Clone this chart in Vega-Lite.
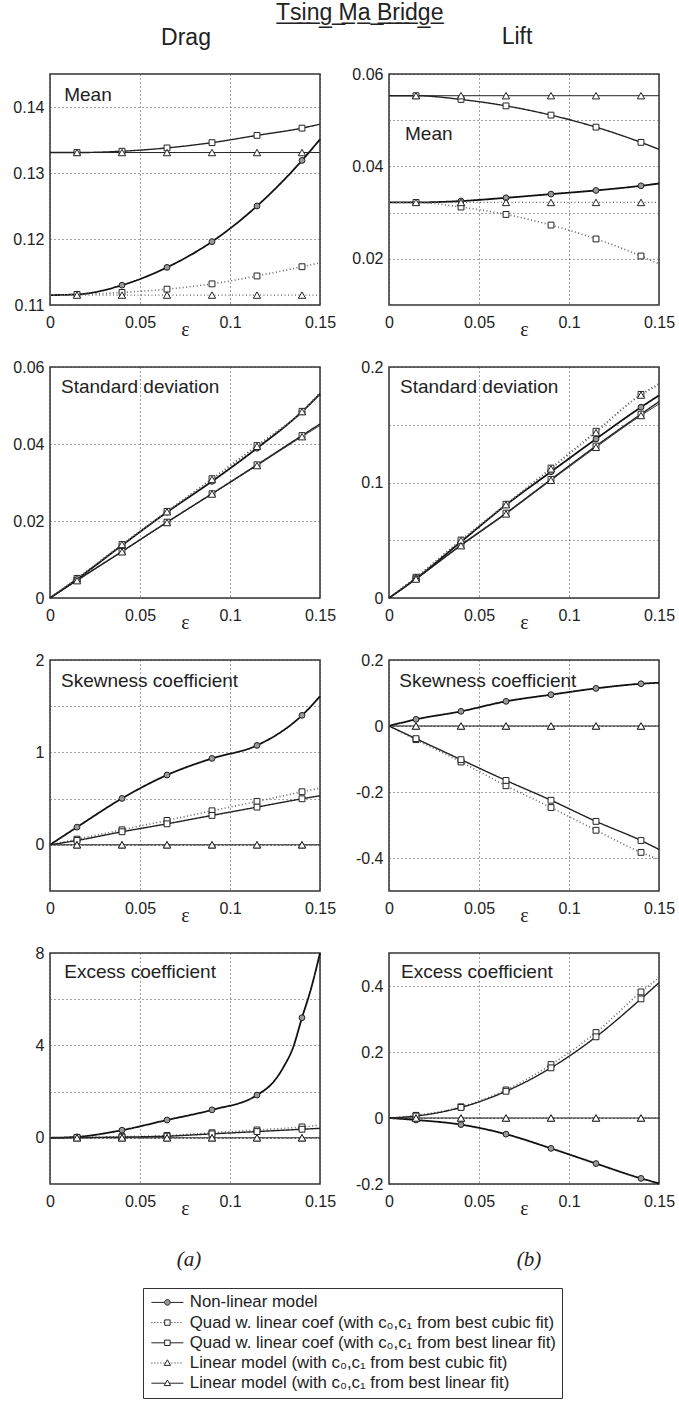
{
  "$schema": "https://vega.github.io/schema/vega-lite/v6.json",
  "padding": {"left": 12, "top": 2, "right": 2, "bottom": 2},
  "background": "white",
  "title": {"text": "T\u0332s\u0332i\u0332n\u0332g\u0332 \u0332M\u0332a\u0332 \u0332B\u0332r\u0332i\u0332d\u0332g\u0332e\u0332", "font": "Liberation Sans", "fontSize": 23, "fontWeight": "normal", "color": "#222", "baseline": "alphabetic", "anchor": "middle", "offset": -18, "dx": 16},
  "datasets": {
    "names": [
      {"p": "dm", "name": "Mean"}, {"p": "lm", "name": "Mean"},
      {"p": "ds", "name": "Standard deviation"}, {"p": "ls", "name": "Standard deviation"},
      {"p": "dk", "name": "Skewness coefficient"}, {"p": "lk", "name": "Skewness coefficient"},
      {"p": "de", "name": "Excess coefficient"}, {"p": "le", "name": "Excess coefficient"}
    ],
    "curves": [
      {"p":"dm","s":"nl","x":0,"y":0.1115},{"p":"dm","s":"nl","x":0.015,"y":0.1116,"m":1},{"p":"dm","s":"nl","x":0.04,"y":0.113,"m":1},{"p":"dm","s":"nl","x":0.065,"y":0.1157,"m":1},{"p":"dm","s":"nl","x":0.09,"y":0.1196,"m":1},{"p":"dm","s":"nl","x":0.115,"y":0.125,"m":1},{"p":"dm","s":"nl","x":0.14,"y":0.1319,"m":1},{"p":"dm","s":"nl","x":0.15,"y":0.1351},
      {"p":"dm","s":"qc","x":0,"y":0.1115},{"p":"dm","s":"qc","x":0.015,"y":0.1116,"m":1},{"p":"dm","s":"qc","x":0.04,"y":0.1119,"m":1},{"p":"dm","s":"qc","x":0.065,"y":0.1124,"m":1},{"p":"dm","s":"qc","x":0.09,"y":0.1132,"m":1},{"p":"dm","s":"qc","x":0.115,"y":0.1144,"m":1},{"p":"dm","s":"qc","x":0.14,"y":0.1158,"m":1},{"p":"dm","s":"qc","x":0.15,"y":0.1164},
      {"p":"dm","s":"ql","x":0,"y":0.1331},{"p":"dm","s":"ql","x":0.015,"y":0.1331,"m":1},{"p":"dm","s":"ql","x":0.04,"y":0.1333,"m":1},{"p":"dm","s":"ql","x":0.065,"y":0.1338,"m":1},{"p":"dm","s":"ql","x":0.09,"y":0.1346,"m":1},{"p":"dm","s":"ql","x":0.115,"y":0.1357,"m":1},{"p":"dm","s":"ql","x":0.14,"y":0.1368,"m":1},{"p":"dm","s":"ql","x":0.15,"y":0.1374},
      {"p":"dm","s":"lc","x":0,"y":0.1115},{"p":"dm","s":"lc","x":0.015,"y":0.1115,"m":1},{"p":"dm","s":"lc","x":0.04,"y":0.1115,"m":1},{"p":"dm","s":"lc","x":0.065,"y":0.1115,"m":1},{"p":"dm","s":"lc","x":0.09,"y":0.1115,"m":1},{"p":"dm","s":"lc","x":0.115,"y":0.1115,"m":1},{"p":"dm","s":"lc","x":0.14,"y":0.1115,"m":1},{"p":"dm","s":"lc","x":0.15,"y":0.1115},
      {"p":"dm","s":"ll","x":0,"y":0.1331},{"p":"dm","s":"ll","x":0.015,"y":0.1331,"m":1},{"p":"dm","s":"ll","x":0.04,"y":0.1331,"m":1},{"p":"dm","s":"ll","x":0.065,"y":0.1331,"m":1},{"p":"dm","s":"ll","x":0.09,"y":0.1331,"m":1},{"p":"dm","s":"ll","x":0.115,"y":0.1331,"m":1},{"p":"dm","s":"ll","x":0.14,"y":0.1331,"m":1},{"p":"dm","s":"ll","x":0.15,"y":0.1331},

      {"p":"lm","s":"nl","x":0,"y":0.0322},{"p":"lm","s":"nl","x":0.015,"y":0.0322,"m":1},{"p":"lm","s":"nl","x":0.04,"y":0.0325,"m":1},{"p":"lm","s":"nl","x":0.065,"y":0.0332,"m":1},{"p":"lm","s":"nl","x":0.09,"y":0.034,"m":1},{"p":"lm","s":"nl","x":0.115,"y":0.0348,"m":1},{"p":"lm","s":"nl","x":0.14,"y":0.0358,"m":1},{"p":"lm","s":"nl","x":0.15,"y":0.0363},
      {"p":"lm","s":"qc","x":0,"y":0.0322},{"p":"lm","s":"qc","x":0.015,"y":0.0322,"m":1},{"p":"lm","s":"qc","x":0.04,"y":0.0312,"m":1},{"p":"lm","s":"qc","x":0.065,"y":0.0296,"m":1},{"p":"lm","s":"qc","x":0.09,"y":0.0273,"m":1},{"p":"lm","s":"qc","x":0.115,"y":0.0243,"m":1},{"p":"lm","s":"qc","x":0.14,"y":0.0206,"m":1},{"p":"lm","s":"qc","x":0.15,"y":0.0189},
      {"p":"lm","s":"ql","x":0,"y":0.0553},{"p":"lm","s":"ql","x":0.015,"y":0.0553,"m":1},{"p":"lm","s":"ql","x":0.04,"y":0.0545,"m":1},{"p":"lm","s":"ql","x":0.065,"y":0.0531,"m":1},{"p":"lm","s":"ql","x":0.09,"y":0.0511,"m":1},{"p":"lm","s":"ql","x":0.115,"y":0.0485,"m":1},{"p":"lm","s":"ql","x":0.14,"y":0.0452,"m":1},{"p":"lm","s":"ql","x":0.15,"y":0.0437},
      {"p":"lm","s":"lc","x":0,"y":0.0322},{"p":"lm","s":"lc","x":0.015,"y":0.0322,"m":1},{"p":"lm","s":"lc","x":0.04,"y":0.0322,"m":1},{"p":"lm","s":"lc","x":0.065,"y":0.0322,"m":1},{"p":"lm","s":"lc","x":0.09,"y":0.0322,"m":1},{"p":"lm","s":"lc","x":0.115,"y":0.0322,"m":1},{"p":"lm","s":"lc","x":0.14,"y":0.0322,"m":1},{"p":"lm","s":"lc","x":0.15,"y":0.0322},
      {"p":"lm","s":"ll","x":0,"y":0.0553},{"p":"lm","s":"ll","x":0.015,"y":0.0553,"m":1},{"p":"lm","s":"ll","x":0.04,"y":0.0553,"m":1},{"p":"lm","s":"ll","x":0.065,"y":0.0553,"m":1},{"p":"lm","s":"ll","x":0.09,"y":0.0553,"m":1},{"p":"lm","s":"ll","x":0.115,"y":0.0553,"m":1},{"p":"lm","s":"ll","x":0.14,"y":0.0553,"m":1},{"p":"lm","s":"ll","x":0.15,"y":0.0553},

      {"p":"ds","s":"nl","x":0,"y":0},{"p":"ds","s":"nl","x":0.015,"y":0.0049,"m":1},{"p":"ds","s":"nl","x":0.04,"y":0.0137,"m":1},{"p":"ds","s":"nl","x":0.065,"y":0.0223,"m":1},{"p":"ds","s":"nl","x":0.09,"y":0.0303,"m":1},{"p":"ds","s":"nl","x":0.115,"y":0.0389,"m":1},{"p":"ds","s":"nl","x":0.14,"y":0.0484,"m":1},{"p":"ds","s":"nl","x":0.15,"y":0.053},
      {"p":"ds","s":"qc","x":0,"y":0},{"p":"ds","s":"qc","x":0.015,"y":0.0051,"m":1},{"p":"ds","s":"qc","x":0.04,"y":0.0139,"m":1},{"p":"ds","s":"qc","x":0.065,"y":0.0225,"m":1},{"p":"ds","s":"qc","x":0.09,"y":0.031,"m":1},{"p":"ds","s":"qc","x":0.115,"y":0.0396,"m":1},{"p":"ds","s":"qc","x":0.14,"y":0.0485,"m":1},{"p":"ds","s":"qc","x":0.15,"y":0.0533},
      {"p":"ds","s":"ql","x":0,"y":0},{"p":"ds","s":"ql","x":0.015,"y":0.0046,"m":1},{"p":"ds","s":"ql","x":0.04,"y":0.0121,"m":1},{"p":"ds","s":"ql","x":0.065,"y":0.0197,"m":1},{"p":"ds","s":"ql","x":0.09,"y":0.0271,"m":1},{"p":"ds","s":"ql","x":0.115,"y":0.0346,"m":1},{"p":"ds","s":"ql","x":0.14,"y":0.0422,"m":1},{"p":"ds","s":"ql","x":0.15,"y":0.0452},
      {"p":"ds","s":"lc","x":0,"y":0},{"p":"ds","s":"lc","x":0.015,"y":0.0051,"m":1},{"p":"ds","s":"lc","x":0.04,"y":0.0139,"m":1},{"p":"ds","s":"lc","x":0.065,"y":0.0224,"m":1},{"p":"ds","s":"lc","x":0.09,"y":0.0308,"m":1},{"p":"ds","s":"lc","x":0.115,"y":0.0394,"m":1},{"p":"ds","s":"lc","x":0.14,"y":0.0484,"m":1},{"p":"ds","s":"lc","x":0.15,"y":0.0531},
      {"p":"ds","s":"ll","x":0,"y":0},{"p":"ds","s":"ll","x":0.015,"y":0.0045,"m":1},{"p":"ds","s":"ll","x":0.04,"y":0.012,"m":1},{"p":"ds","s":"ll","x":0.065,"y":0.0196,"m":1},{"p":"ds","s":"ll","x":0.09,"y":0.027,"m":1},{"p":"ds","s":"ll","x":0.115,"y":0.0344,"m":1},{"p":"ds","s":"ll","x":0.14,"y":0.0419,"m":1},{"p":"ds","s":"ll","x":0.15,"y":0.0448},

      {"p":"ls","s":"nl","x":0,"y":0},{"p":"ls","s":"nl","x":0.015,"y":0.0168,"m":1},{"p":"ls","s":"nl","x":0.04,"y":0.0487,"m":1},{"p":"ls","s":"nl","x":0.065,"y":0.0806,"m":1},{"p":"ls","s":"nl","x":0.09,"y":0.1093,"m":1},{"p":"ls","s":"nl","x":0.115,"y":0.1377,"m":1},{"p":"ls","s":"nl","x":0.14,"y":0.1652,"m":1},{"p":"ls","s":"nl","x":0.15,"y":0.1754},
      {"p":"ls","s":"qc","x":0,"y":0},{"p":"ls","s":"qc","x":0.015,"y":0.018,"m":1},{"p":"ls","s":"qc","x":0.04,"y":0.0502,"m":1},{"p":"ls","s":"qc","x":0.065,"y":0.0812,"m":1},{"p":"ls","s":"qc","x":0.09,"y":0.1125,"m":1},{"p":"ls","s":"qc","x":0.115,"y":0.1444,"m":1},{"p":"ls","s":"qc","x":0.14,"y":0.1763,"m":1},{"p":"ls","s":"qc","x":0.15,"y":0.1855},
      {"p":"ls","s":"ql","x":0,"y":0},{"p":"ls","s":"ql","x":0.015,"y":0.0166,"m":1},{"p":"ls","s":"ql","x":0.04,"y":0.0458,"m":1},{"p":"ls","s":"ql","x":0.065,"y":0.0735,"m":1},{"p":"ls","s":"ql","x":0.09,"y":0.1027,"m":1},{"p":"ls","s":"ql","x":0.115,"y":0.1316,"m":1},{"p":"ls","s":"ql","x":0.14,"y":0.1592,"m":1},{"p":"ls","s":"ql","x":0.15,"y":0.17},
      {"p":"ls","s":"lc","x":0,"y":0},{"p":"ls","s":"lc","x":0.015,"y":0.0178,"m":1},{"p":"ls","s":"lc","x":0.04,"y":0.0498,"m":1},{"p":"ls","s":"lc","x":0.065,"y":0.0808,"m":1},{"p":"ls","s":"lc","x":0.09,"y":0.1118,"m":1},{"p":"ls","s":"lc","x":0.115,"y":0.1432,"m":1},{"p":"ls","s":"lc","x":0.14,"y":0.1757,"m":1},{"p":"ls","s":"lc","x":0.15,"y":0.1845},
      {"p":"ls","s":"ll","x":0,"y":0},{"p":"ls","s":"ll","x":0.015,"y":0.0164,"m":1},{"p":"ls","s":"ll","x":0.04,"y":0.0453,"m":1},{"p":"ls","s":"ll","x":0.065,"y":0.0728,"m":1},{"p":"ls","s":"ll","x":0.09,"y":0.1019,"m":1},{"p":"ls","s":"ll","x":0.115,"y":0.1305,"m":1},{"p":"ls","s":"ll","x":0.14,"y":0.158,"m":1},{"p":"ls","s":"ll","x":0.15,"y":0.168},

      {"p":"dk","s":"nl","x":0,"y":0},{"p":"dk","s":"nl","x":0.015,"y":0.191,"m":1},{"p":"dk","s":"nl","x":0.04,"y":0.502,"m":1},{"p":"dk","s":"nl","x":0.065,"y":0.755,"m":1},{"p":"dk","s":"nl","x":0.09,"y":0.935,"m":1},{"p":"dk","s":"nl","x":0.115,"y":1.076,"m":1},{"p":"dk","s":"nl","x":0.14,"y":1.401,"m":1},{"p":"dk","s":"nl","x":0.15,"y":1.606},
      {"p":"dk","s":"qc","x":0,"y":0},{"p":"dk","s":"qc","x":0.015,"y":0.061,"m":1},{"p":"dk","s":"qc","x":0.04,"y":0.162,"m":1},{"p":"dk","s":"qc","x":0.065,"y":0.264,"m":1},{"p":"dk","s":"qc","x":0.09,"y":0.368,"m":1},{"p":"dk","s":"qc","x":0.115,"y":0.469,"m":1},{"p":"dk","s":"qc","x":0.14,"y":0.574,"m":1},{"p":"dk","s":"qc","x":0.15,"y":0.614},
      {"p":"dk","s":"ql","x":0,"y":0},{"p":"dk","s":"ql","x":0.015,"y":0.047,"m":1},{"p":"dk","s":"ql","x":0.04,"y":0.141,"m":1},{"p":"dk","s":"ql","x":0.065,"y":0.227,"m":1},{"p":"dk","s":"ql","x":0.09,"y":0.318,"m":1},{"p":"dk","s":"ql","x":0.115,"y":0.408,"m":1},{"p":"dk","s":"ql","x":0.14,"y":0.498,"m":1},{"p":"dk","s":"ql","x":0.15,"y":0.531},
      {"p":"dk","s":"lc","x":0,"y":0},{"p":"dk","s":"lc","x":0.015,"y":0,"m":1},{"p":"dk","s":"lc","x":0.04,"y":0,"m":1},{"p":"dk","s":"lc","x":0.065,"y":0,"m":1},{"p":"dk","s":"lc","x":0.09,"y":0,"m":1},{"p":"dk","s":"lc","x":0.115,"y":0,"m":1},{"p":"dk","s":"lc","x":0.14,"y":0,"m":1},{"p":"dk","s":"lc","x":0.15,"y":0},
      {"p":"dk","s":"ll","x":0,"y":0},{"p":"dk","s":"ll","x":0.015,"y":0,"m":1},{"p":"dk","s":"ll","x":0.04,"y":0,"m":1},{"p":"dk","s":"ll","x":0.065,"y":0,"m":1},{"p":"dk","s":"ll","x":0.09,"y":0,"m":1},{"p":"dk","s":"ll","x":0.115,"y":0,"m":1},{"p":"dk","s":"ll","x":0.14,"y":0,"m":1},{"p":"dk","s":"ll","x":0.15,"y":0},

      {"p":"lk","s":"nl","x":0,"y":0},{"p":"lk","s":"nl","x":0.015,"y":0.0202,"m":1},{"p":"lk","s":"nl","x":0.04,"y":0.0444,"m":1},{"p":"lk","s":"nl","x":0.065,"y":0.0747,"m":1},{"p":"lk","s":"nl","x":0.09,"y":0.0949,"m":1},{"p":"lk","s":"nl","x":0.115,"y":0.114,"m":1},{"p":"lk","s":"nl","x":0.14,"y":0.128,"m":1},{"p":"lk","s":"nl","x":0.15,"y":0.131},
      {"p":"lk","s":"qc","x":0,"y":0},{"p":"lk","s":"qc","x":0.015,"y":-0.0414,"m":1},{"p":"lk","s":"qc","x":0.04,"y":-0.109,"m":1},{"p":"lk","s":"qc","x":0.065,"y":-0.181,"m":1},{"p":"lk","s":"qc","x":0.09,"y":-0.247,"m":1},{"p":"lk","s":"qc","x":0.115,"y":-0.316,"m":1},{"p":"lk","s":"qc","x":0.14,"y":-0.383,"m":1},{"p":"lk","s":"qc","x":0.15,"y":-0.404},
      {"p":"lk","s":"ql","x":0,"y":0},{"p":"lk","s":"ql","x":0.015,"y":-0.0384,"m":1},{"p":"lk","s":"ql","x":0.04,"y":-0.102,"m":1},{"p":"lk","s":"ql","x":0.065,"y":-0.165,"m":1},{"p":"lk","s":"ql","x":0.09,"y":-0.225,"m":1},{"p":"lk","s":"ql","x":0.115,"y":-0.289,"m":1},{"p":"lk","s":"ql","x":0.14,"y":-0.347,"m":1},{"p":"lk","s":"ql","x":0.15,"y":-0.374},
      {"p":"lk","s":"lc","x":0,"y":0},{"p":"lk","s":"lc","x":0.015,"y":0,"m":1},{"p":"lk","s":"lc","x":0.04,"y":0,"m":1},{"p":"lk","s":"lc","x":0.065,"y":0,"m":1},{"p":"lk","s":"lc","x":0.09,"y":0,"m":1},{"p":"lk","s":"lc","x":0.115,"y":0,"m":1},{"p":"lk","s":"lc","x":0.14,"y":0,"m":1},{"p":"lk","s":"lc","x":0.15,"y":0},
      {"p":"lk","s":"ll","x":0,"y":0},{"p":"lk","s":"ll","x":0.015,"y":0,"m":1},{"p":"lk","s":"ll","x":0.04,"y":0,"m":1},{"p":"lk","s":"ll","x":0.065,"y":0,"m":1},{"p":"lk","s":"ll","x":0.09,"y":0,"m":1},{"p":"lk","s":"ll","x":0.115,"y":0,"m":1},{"p":"lk","s":"ll","x":0.14,"y":0,"m":1},{"p":"lk","s":"ll","x":0.15,"y":0},

      {"p":"de","s":"nl","x":0,"y":0},{"p":"de","s":"nl","x":0.015,"y":0.04,"m":1},{"p":"de","s":"nl","x":0.04,"y":0.33,"m":1},{"p":"de","s":"nl","x":0.065,"y":0.77,"m":1},{"p":"de","s":"nl","x":0.09,"y":1.21,"m":1},{"p":"de","s":"nl","x":0.115,"y":1.85,"m":1},{"p":"de","s":"nl","x":0.125,"y":2.5},{"p":"de","s":"nl","x":0.13,"y":3.1},{"p":"de","s":"nl","x":0.135,"y":3.9},{"p":"de","s":"nl","x":0.14,"y":5.2,"m":1},{"p":"de","s":"nl","x":0.145,"y":6.45},{"p":"de","s":"nl","x":0.15,"y":8.0},
      {"p":"de","s":"qc","x":0,"y":0},{"p":"de","s":"qc","x":0.015,"y":0.02,"m":1},{"p":"de","s":"qc","x":0.04,"y":0.05,"m":1},{"p":"de","s":"qc","x":0.065,"y":0.1,"m":1},{"p":"de","s":"qc","x":0.09,"y":0.22,"m":1},{"p":"de","s":"qc","x":0.115,"y":0.34,"m":1},{"p":"de","s":"qc","x":0.14,"y":0.47,"m":1},{"p":"de","s":"qc","x":0.15,"y":0.55},
      {"p":"de","s":"ql","x":0,"y":0},{"p":"de","s":"ql","x":0.015,"y":0.01,"m":1},{"p":"de","s":"ql","x":0.04,"y":0.03,"m":1},{"p":"de","s":"ql","x":0.065,"y":0.07,"m":1},{"p":"de","s":"ql","x":0.09,"y":0.17,"m":1},{"p":"de","s":"ql","x":0.115,"y":0.27,"m":1},{"p":"de","s":"ql","x":0.14,"y":0.37,"m":1},{"p":"de","s":"ql","x":0.15,"y":0.41},
      {"p":"de","s":"lc","x":0,"y":0},{"p":"de","s":"lc","x":0.015,"y":0,"m":1},{"p":"de","s":"lc","x":0.04,"y":0,"m":1},{"p":"de","s":"lc","x":0.065,"y":0,"m":1},{"p":"de","s":"lc","x":0.09,"y":0,"m":1},{"p":"de","s":"lc","x":0.115,"y":0,"m":1},{"p":"de","s":"lc","x":0.14,"y":0,"m":1},{"p":"de","s":"lc","x":0.15,"y":0},
      {"p":"de","s":"ll","x":0,"y":0},{"p":"de","s":"ll","x":0.015,"y":0,"m":1},{"p":"de","s":"ll","x":0.04,"y":0,"m":1},{"p":"de","s":"ll","x":0.065,"y":0,"m":1},{"p":"de","s":"ll","x":0.09,"y":0,"m":1},{"p":"de","s":"ll","x":0.115,"y":0,"m":1},{"p":"de","s":"ll","x":0.14,"y":0,"m":1},{"p":"de","s":"ll","x":0.15,"y":0},

      {"p":"le","s":"nl","x":0,"y":0},{"p":"le","s":"nl","x":0.015,"y":-0.006,"m":1},{"p":"le","s":"nl","x":0.04,"y":-0.02,"m":1},{"p":"le","s":"nl","x":0.065,"y":-0.049,"m":1},{"p":"le","s":"nl","x":0.09,"y":-0.092,"m":1},{"p":"le","s":"nl","x":0.115,"y":-0.138,"m":1},{"p":"le","s":"nl","x":0.14,"y":-0.183,"m":1},{"p":"le","s":"nl","x":0.15,"y":-0.198},
      {"p":"le","s":"qc","x":0,"y":0},{"p":"le","s":"qc","x":0.015,"y":0.008,"m":1},{"p":"le","s":"qc","x":0.04,"y":0.034,"m":1},{"p":"le","s":"qc","x":0.065,"y":0.085,"m":1},{"p":"le","s":"qc","x":0.09,"y":0.162,"m":1},{"p":"le","s":"qc","x":0.115,"y":0.259,"m":1},{"p":"le","s":"qc","x":0.14,"y":0.382,"m":1},{"p":"le","s":"qc","x":0.15,"y":0.425},
      {"p":"le","s":"ql","x":0,"y":0},{"p":"le","s":"ql","x":0.015,"y":0.006,"m":1},{"p":"le","s":"ql","x":0.04,"y":0.032,"m":1},{"p":"le","s":"ql","x":0.065,"y":0.081,"m":1},{"p":"le","s":"ql","x":0.09,"y":0.152,"m":1},{"p":"le","s":"ql","x":0.115,"y":0.246,"m":1},{"p":"le","s":"ql","x":0.14,"y":0.361,"m":1},{"p":"le","s":"ql","x":0.15,"y":0.41},
      {"p":"le","s":"lc","x":0,"y":0},{"p":"le","s":"lc","x":0.015,"y":0,"m":1},{"p":"le","s":"lc","x":0.04,"y":0,"m":1},{"p":"le","s":"lc","x":0.065,"y":0,"m":1},{"p":"le","s":"lc","x":0.09,"y":0,"m":1},{"p":"le","s":"lc","x":0.115,"y":0,"m":1},{"p":"le","s":"lc","x":0.14,"y":0,"m":1},{"p":"le","s":"lc","x":0.15,"y":0},
      {"p":"le","s":"ll","x":0,"y":0},{"p":"le","s":"ll","x":0.015,"y":0,"m":1},{"p":"le","s":"ll","x":0.04,"y":0,"m":1},{"p":"le","s":"ll","x":0.065,"y":0,"m":1},{"p":"le","s":"ll","x":0.09,"y":0,"m":1},{"p":"le","s":"ll","x":0.115,"y":0,"m":1},{"p":"le","s":"ll","x":0.14,"y":0,"m":1},{"p":"le","s":"ll","x":0.15,"y":0}
    ]
  },
  "columns": 2,
  "spacing": {"row": 62, "column": 69},
  "bounds": "flush",
  "resolve": {"scale": {"x": "independent", "y": "independent", "shape": "independent", "fill": "independent", "stroke": "independent", "strokeDash": "independent", "strokeWidth": "independent"}},
  "concat": [
    {
      "width": 270, "height": 231,
      "title": {"text": "Drag", "fontSize": 23, "offset": 6, "baseline": "alphabetic", "frame": "group", "anchor": "middle", "dx": 1},
      "layer": [
        {"data": {"name": "curves"}, "transform": [{"filter": "datum.p === 'dm'"}],
         "mark": {"type": "line", "interpolate": "monotone"},
         "encoding": {
           "x": {"field": "x", "type": "quantitative", "scale": {"domain": [0, 0.15], "nice": false, "zero": false}, "axis": {"values": [0, 0.05, 0.1, 0.15], "format": "~g", "title": "ε"}},
           "y": {"field": "y", "type": "quantitative", "scale": {"domain": [0.11, 0.145], "nice": false, "zero": false}, "axis": {"title": null, "values": [0.11, 0.115, 0.12, 0.125, 0.13, 0.135, 0.14], "format": "~g", "labelExpr": "abs(datum.value*100 - round(datum.value*100)) < 1e-6 ? replace(datum.label, '\u2212', '-') : ''"}},
           "stroke": {"field": "s", "type": "nominal", "scale": {"domain": ["nl","qc","ql","lc","ll"], "range": ["#111","#666","#222","#666","#222"]}, "legend": null},
           "strokeDash": {"field": "s", "type": "nominal", "scale": {"domain": ["nl","qc","ql","lc","ll"], "range": [[1,0],[1,2.5],[1,0],[1,2.5],[1,0]]}, "legend": null},
           "strokeWidth": {"field": "s", "type": "nominal", "scale": {"domain": ["nl","qc","ql","lc","ll"], "range": [1.8,1,1,1,1]}, "legend": null}
         }},
        {"data": {"name": "curves"}, "transform": [{"filter": "datum.p === 'dm' && datum.m === 1"}],
         "mark": {"type": "point", "filled": true, "stroke": "#222", "strokeWidth": 1, "opacity": 1, "size": 34},
         "encoding": {
           "x": {"field": "x", "type": "quantitative"}, "y": {"field": "y", "type": "quantitative"},
           "shape": {"field": "s", "type": "nominal", "scale": {"domain": ["nl","qc","ql","lc","ll"], "range": ["circle","square","square","M0,-1.1L1.25,1.1L-1.25,1.1Z","M0,-1.1L1.25,1.1L-1.25,1.1Z"]}, "legend": null},
           "fill": {"field": "s", "type": "nominal", "scale": {"domain": ["nl","qc","ql","lc","ll"], "range": ["#999","white","white","white","white"]}, "legend": null}
         }},
        {"data": {"name": "names"}, "transform": [{"filter": "datum.p === 'dm'"}],
         "mark": {"type": "text", "align": "left", "baseline": "alphabetic", "font": "Liberation Sans", "fontSize": 19, "color": "#222"},
         "encoding": {"text": {"field": "name"}, "x": {"datum": 0.0079}, "y": {"datum": 0.1409}}}
      ]
    },
    {
      "width": 270, "height": 231,
      "title": {"text": "Lift", "fontSize": 23, "offset": -1, "baseline": "alphabetic", "frame": "group", "anchor": "middle", "dx": -7},
      "layer": [
        {"data": {"name": "curves"}, "transform": [{"filter": "datum.p === 'lm'"}],
         "mark": {"type": "line", "interpolate": "monotone"},
         "encoding": {
           "x": {"field": "x", "type": "quantitative", "scale": {"domain": [0, 0.15], "nice": false, "zero": false}, "axis": {"values": [0, 0.05, 0.1, 0.15], "format": "~g", "title": "ε"}},
           "y": {"field": "y", "type": "quantitative", "scale": {"domain": [0.01, 0.06], "nice": false, "zero": false}, "axis": {"title": null, "values": [0.02, 0.03, 0.04, 0.05, 0.06], "format": "~g", "labelExpr": "abs(datum.value*50 - round(datum.value*50)) < 1e-6 ? replace(datum.label, '\u2212', '-') : ''"}},
           "stroke": {"field": "s", "type": "nominal", "scale": {"domain": ["nl","qc","ql","lc","ll"], "range": ["#111","#666","#222","#666","#222"]}, "legend": null},
           "strokeDash": {"field": "s", "type": "nominal", "scale": {"domain": ["nl","qc","ql","lc","ll"], "range": [[1,0],[1,2.5],[1,0],[1,2.5],[1,0]]}, "legend": null},
           "strokeWidth": {"field": "s", "type": "nominal", "scale": {"domain": ["nl","qc","ql","lc","ll"], "range": [1.8,1,1,1,1]}, "legend": null}
         }},
        {"data": {"name": "curves"}, "transform": [{"filter": "datum.p === 'lm' && datum.m === 1"}],
         "mark": {"type": "point", "filled": true, "stroke": "#222", "strokeWidth": 1, "opacity": 1, "size": 34},
         "encoding": {
           "x": {"field": "x", "type": "quantitative"}, "y": {"field": "y", "type": "quantitative"},
           "shape": {"field": "s", "type": "nominal", "scale": {"domain": ["nl","qc","ql","lc","ll"], "range": ["circle","square","square","M0,-1.1L1.25,1.1L-1.25,1.1Z","M0,-1.1L1.25,1.1L-1.25,1.1Z"]}, "legend": null},
           "fill": {"field": "s", "type": "nominal", "scale": {"domain": ["nl","qc","ql","lc","ll"], "range": ["#999","white","white","white","white"]}, "legend": null}
         }},
        {"data": {"name": "names"}, "transform": [{"filter": "datum.p === 'lm'"}],
         "mark": {"type": "text", "align": "left", "baseline": "alphabetic", "font": "Liberation Sans", "fontSize": 19, "color": "#222"},
         "encoding": {"text": {"field": "name"}, "x": {"datum": 0.0089}, "y": {"datum": 0.0457}}}
      ]
    },
    {
      "width": 270, "height": 231,
      "layer": [
        {"data": {"name": "curves"}, "transform": [{"filter": "datum.p === 'ds'"}],
         "mark": {"type": "line", "interpolate": "monotone"},
         "encoding": {
           "x": {"field": "x", "type": "quantitative", "scale": {"domain": [0, 0.15], "nice": false, "zero": false}, "axis": {"values": [0, 0.05, 0.1, 0.15], "format": "~g", "title": "ε"}},
           "y": {"field": "y", "type": "quantitative", "scale": {"domain": [0, 0.06], "nice": false, "zero": false}, "axis": {"title": null, "values": [0, 0.01, 0.02, 0.03, 0.04, 0.05, 0.06], "format": "~g", "labelExpr": "abs(datum.value*50 - round(datum.value*50)) < 1e-6 ? replace(datum.label, '\u2212', '-') : ''"}},
           "stroke": {"field": "s", "type": "nominal", "scale": {"domain": ["nl","qc","ql","lc","ll"], "range": ["#111","#666","#222","#666","#222"]}, "legend": null},
           "strokeDash": {"field": "s", "type": "nominal", "scale": {"domain": ["nl","qc","ql","lc","ll"], "range": [[1,0],[1,2.5],[1,0],[1,2.5],[1,0]]}, "legend": null},
           "strokeWidth": {"field": "s", "type": "nominal", "scale": {"domain": ["nl","qc","ql","lc","ll"], "range": [1.8,1,1,1,1]}, "legend": null}
         }},
        {"data": {"name": "curves"}, "transform": [{"filter": "datum.p === 'ds' && datum.m === 1"}],
         "mark": {"type": "point", "filled": true, "stroke": "#222", "strokeWidth": 1, "opacity": 1, "size": 34},
         "encoding": {
           "x": {"field": "x", "type": "quantitative"}, "y": {"field": "y", "type": "quantitative"},
           "shape": {"field": "s", "type": "nominal", "scale": {"domain": ["nl","qc","ql","lc","ll"], "range": ["circle","square","square","M0,-1.1L1.25,1.1L-1.25,1.1Z","M0,-1.1L1.25,1.1L-1.25,1.1Z"]}, "legend": null},
           "fill": {"field": "s", "type": "nominal", "scale": {"domain": ["nl","qc","ql","lc","ll"], "range": ["#999","white","white","white","white"]}, "legend": null}
         }},
        {"data": {"name": "names"}, "transform": [{"filter": "datum.p === 'ds'"}],
         "mark": {"type": "text", "align": "left", "baseline": "alphabetic", "font": "Liberation Sans", "fontSize": 19, "color": "#222"},
         "encoding": {"text": {"field": "name"}, "x": {"datum": 0.0061}, "y": {"datum": 0.0532}}}
      ]
    },
    {
      "width": 270, "height": 231,
      "layer": [
        {"data": {"name": "curves"}, "transform": [{"filter": "datum.p === 'ls'"}],
         "mark": {"type": "line", "interpolate": "monotone"},
         "encoding": {
           "x": {"field": "x", "type": "quantitative", "scale": {"domain": [0, 0.15], "nice": false, "zero": false}, "axis": {"values": [0, 0.05, 0.1, 0.15], "format": "~g", "title": "ε"}},
           "y": {"field": "y", "type": "quantitative", "scale": {"domain": [0, 0.2], "nice": false, "zero": false}, "axis": {"title": null, "values": [0, 0.05, 0.1, 0.15, 0.2], "format": "~g", "labelExpr": "abs(datum.value*10 - round(datum.value*10)) < 1e-6 ? replace(datum.label, '\u2212', '-') : ''"}},
           "stroke": {"field": "s", "type": "nominal", "scale": {"domain": ["nl","qc","ql","lc","ll"], "range": ["#111","#666","#222","#666","#222"]}, "legend": null},
           "strokeDash": {"field": "s", "type": "nominal", "scale": {"domain": ["nl","qc","ql","lc","ll"], "range": [[1,0],[1,2.5],[1,0],[1,2.5],[1,0]]}, "legend": null},
           "strokeWidth": {"field": "s", "type": "nominal", "scale": {"domain": ["nl","qc","ql","lc","ll"], "range": [1.8,1,1,1,1]}, "legend": null}
         }},
        {"data": {"name": "curves"}, "transform": [{"filter": "datum.p === 'ls' && datum.m === 1"}],
         "mark": {"type": "point", "filled": true, "stroke": "#222", "strokeWidth": 1, "opacity": 1, "size": 34},
         "encoding": {
           "x": {"field": "x", "type": "quantitative"}, "y": {"field": "y", "type": "quantitative"},
           "shape": {"field": "s", "type": "nominal", "scale": {"domain": ["nl","qc","ql","lc","ll"], "range": ["circle","square","square","M0,-1.1L1.25,1.1L-1.25,1.1Z","M0,-1.1L1.25,1.1L-1.25,1.1Z"]}, "legend": null},
           "fill": {"field": "s", "type": "nominal", "scale": {"domain": ["nl","qc","ql","lc","ll"], "range": ["#999","white","white","white","white"]}, "legend": null}
         }},
        {"data": {"name": "names"}, "transform": [{"filter": "datum.p === 'ls'"}],
         "mark": {"type": "text", "align": "left", "baseline": "alphabetic", "font": "Liberation Sans", "fontSize": 19, "color": "#222"},
         "encoding": {"text": {"field": "name"}, "x": {"datum": 0.0061}, "y": {"datum": 0.1775}}}
      ]
    },
    {
      "width": 270, "height": 231,
      "resolve": {"scale": {"shape": "independent", "fill": "independent", "stroke": "independent"}, "legend": {"shape": "independent", "fill": "independent", "stroke": "independent", "strokeDash": "independent", "strokeWidth": "independent"}},
      "layer": [
        {"data": {"name": "curves"}, "transform": [{"filter": "datum.p === 'dk'"}],
         "mark": {"type": "line", "interpolate": "monotone"},
         "encoding": {
           "x": {"field": "x", "type": "quantitative", "scale": {"domain": [0, 0.15], "nice": false, "zero": false}, "axis": {"values": [0, 0.05, 0.1, 0.15], "format": "~g", "title": "ε"}},
           "y": {"field": "y", "type": "quantitative", "scale": {"domain": [-0.5, 2], "nice": false, "zero": false}, "axis": {"title": null, "values": [0, 0.5, 1, 1.5, 2], "format": "~g", "labelExpr": "abs(datum.value - round(datum.value)) < 1e-6 ? replace(datum.label, '\u2212', '-') : ''"}},
           "stroke": {"field": "s", "type": "nominal", "scale": {"domain": ["nl","qc","ql","lc","ll"], "range": ["#111","#666","#222","#666","#222"]}, "legend": null},
           "strokeDash": {"field": "s", "type": "nominal", "scale": {"domain": ["nl","qc","ql","lc","ll"], "range": [[1,0],[1,2.5],[1,0],[1,2.5],[1,0]]}, "legend": null},
           "strokeWidth": {"field": "s", "type": "nominal", "scale": {"domain": ["nl","qc","ql","lc","ll"], "range": [1.8,1,1,1,1]}, "legend": null}
         }},
        {"data": {"name": "curves"}, "transform": [{"filter": "datum.p === 'dk' && datum.m === 1"}],
         "mark": {"type": "point", "filled": true, "stroke": "#222", "strokeWidth": 1, "opacity": 1, "size": 34},
         "encoding": {
           "x": {"field": "x", "type": "quantitative"}, "y": {"field": "y", "type": "quantitative"},
           "shape": {"field": "s", "type": "nominal", "scale": {"domain": ["nl","qc","ql","lc","ll"], "range": ["circle","square","square","M0,-1.1L1.25,1.1L-1.25,1.1Z","M0,-1.1L1.25,1.1L-1.25,1.1Z"]}, "legend": null},
           "fill": {"field": "s", "type": "nominal", "scale": {"domain": ["nl","qc","ql","lc","ll"], "range": ["#999","white","white","white","white"]}, "legend": null}
         }},
        {"data": {"name": "curves"}, "transform": [{"filter": "datum.p === 'legend-only'"}],
         "mark": {"type": "point", "filled": true, "strokeWidth": 1, "opacity": 1},
         "encoding": {
           "x": {"field": "x", "type": "quantitative"}, "y": {"field": "y", "type": "quantitative"},
           "shape": {"field": "s", "type": "nominal", "scale": {"domain": ["nl","qc","ql","lc","ll"], "range": [
               "M-6,0H7.2M12.8,0H26M7.2,0A2.8,2.8,0,1,1,12.8,0A2.8,2.8,0,1,1,7.2,0Z",
               "M-6,0h1M-3,0h1M0,0h1M3,0h1M6,0h0.8M14,0h1M17,0h1M20,0h1M23,0h1M7.3,-2.7h5.4v5.4h-5.4Z",
               "M-6,0H7.3M12.7,0H26M7.3,-2.7h5.4v5.4h-5.4Z",
               "M-6,0h1M-3,0h1M0,0h1M3,0h1M6,0h1M14,0h1M17,0h1M20,0h1M23,0h1M10,-3.2L13.2,2.4H6.8Z",
               "M-6,0H8.2M11.8,0H26M10,-3.2L13.2,2.4H6.8Z"]},
             "legend": {
               "orient": "none", "legendX": 93, "legendY": 628, "title": null, "direction": "vertical", "columns": 1,
               "labelFont": "Liberation Sans", "labelFontSize": 16.8, "labelColor": "#222", "labelLimit": 600, "labelOffset": 24, "labelBaseline": "middle",
               "symbolSize": 4, "symbolStrokeWidth": 1, "rowPadding": 2.2, "padding": 6, "strokeColor": "#333", "fillColor": "white", "cornerRadius": 0,
               "labelExpr": "datum.label === 'nl' ? 'Non-linear model' : datum.label === 'qc' ? 'Quad w. linear coef (with c\u2080,c\u2081 from best cubic fit)' : datum.label === 'ql' ? 'Quad w. linear coef (with c\u2080,c\u2081 from best linear fit)' : datum.label === 'lc' ? 'Linear model (with c\u2080,c\u2081 from best cubic fit)' : 'Linear model (with c\u2080,c\u2081 from best linear fit)'"
             }},
           "fill": {"field": "s", "type": "nominal", "scale": {"domain": ["nl","qc","ql","lc","ll"], "range": ["#999","white","white","white","white"]}},
           "stroke": {"field": "s", "type": "nominal", "scale": {"domain": ["nl","qc","ql","lc","ll"], "range": ["#222","#222","#222","#222","#222"]}}
         }},
        {"data": {"name": "names"}, "transform": [{"filter": "datum.p === 'dk'"}],
         "mark": {"type": "text", "align": "left", "baseline": "alphabetic", "font": "Liberation Sans", "fontSize": 19, "color": "#222"},
         "encoding": {"text": {"field": "name"}, "x": {"datum": 0.0061}, "y": {"datum": 1.708}}}
      ]
    },
    {
      "width": 270, "height": 231,
      "layer": [
        {"data": {"name": "curves"}, "transform": [{"filter": "datum.p === 'lk'"}],
         "mark": {"type": "line", "interpolate": "monotone"},
         "encoding": {
           "x": {"field": "x", "type": "quantitative", "scale": {"domain": [0, 0.15], "nice": false, "zero": false}, "axis": {"values": [0, 0.05, 0.1, 0.15], "format": "~g", "title": "ε"}},
           "y": {"field": "y", "type": "quantitative", "scale": {"domain": [-0.5, 0.2], "nice": false, "zero": false}, "axis": {"title": null, "values": [-0.4, -0.3, -0.2, -0.1, 0, 0.1, 0.2], "format": "~g", "labelExpr": "abs(datum.value*5 - round(datum.value*5)) < 1e-6 ? replace(datum.label, '\u2212', '-') : ''"}},
           "stroke": {"field": "s", "type": "nominal", "scale": {"domain": ["nl","qc","ql","lc","ll"], "range": ["#111","#666","#222","#666","#222"]}, "legend": null},
           "strokeDash": {"field": "s", "type": "nominal", "scale": {"domain": ["nl","qc","ql","lc","ll"], "range": [[1,0],[1,2.5],[1,0],[1,2.5],[1,0]]}, "legend": null},
           "strokeWidth": {"field": "s", "type": "nominal", "scale": {"domain": ["nl","qc","ql","lc","ll"], "range": [1.8,1,1,1,1]}, "legend": null}
         }},
        {"data": {"name": "curves"}, "transform": [{"filter": "datum.p === 'lk' && datum.m === 1"}],
         "mark": {"type": "point", "filled": true, "stroke": "#222", "strokeWidth": 1, "opacity": 1, "size": 34},
         "encoding": {
           "x": {"field": "x", "type": "quantitative"}, "y": {"field": "y", "type": "quantitative"},
           "shape": {"field": "s", "type": "nominal", "scale": {"domain": ["nl","qc","ql","lc","ll"], "range": ["circle","square","square","M0,-1.1L1.25,1.1L-1.25,1.1Z","M0,-1.1L1.25,1.1L-1.25,1.1Z"]}, "legend": null},
           "fill": {"field": "s", "type": "nominal", "scale": {"domain": ["nl","qc","ql","lc","ll"], "range": ["#999","white","white","white","white"]}, "legend": null}
         }},
        {"data": {"name": "names"}, "transform": [{"filter": "datum.p === 'lk'"}],
         "mark": {"type": "text", "align": "left", "baseline": "alphabetic", "font": "Liberation Sans", "fontSize": 19, "color": "#222"},
         "encoding": {"text": {"field": "name"}, "x": {"datum": 0.0057}, "y": {"datum": 0.118}}}
      ]
    },
    {
      "width": 270, "height": 231,
      "title": {"text": "(a)", "orient": "bottom", "font": "Liberation Serif", "fontStyle": "italic", "fontSize": 21, "offset": 48, "baseline": "alphabetic", "frame": "group", "anchor": "middle", "dx": 4},
      "layer": [
        {"data": {"name": "curves"}, "transform": [{"filter": "datum.p === 'de'"}],
         "mark": {"type": "line", "interpolate": "monotone"},
         "encoding": {
           "x": {"field": "x", "type": "quantitative", "scale": {"domain": [0, 0.15], "nice": false, "zero": false}, "axis": {"values": [0, 0.05, 0.1, 0.15], "format": "~g", "title": "ε"}},
           "y": {"field": "y", "type": "quantitative", "scale": {"domain": [-2, 8], "nice": false, "zero": false}, "axis": {"title": null, "values": [0, 2, 4, 6, 8], "format": "~g", "labelExpr": "abs(datum.value*0.25 - round(datum.value*0.25)) < 1e-6 ? replace(datum.label, '\u2212', '-') : ''"}},
           "stroke": {"field": "s", "type": "nominal", "scale": {"domain": ["nl","qc","ql","lc","ll"], "range": ["#111","#666","#222","#666","#222"]}, "legend": null},
           "strokeDash": {"field": "s", "type": "nominal", "scale": {"domain": ["nl","qc","ql","lc","ll"], "range": [[1,0],[1,2.5],[1,0],[1,2.5],[1,0]]}, "legend": null},
           "strokeWidth": {"field": "s", "type": "nominal", "scale": {"domain": ["nl","qc","ql","lc","ll"], "range": [1.8,1,1,1,1]}, "legend": null}
         }},
        {"data": {"name": "curves"}, "transform": [{"filter": "datum.p === 'de' && datum.m === 1"}],
         "mark": {"type": "point", "filled": true, "stroke": "#222", "strokeWidth": 1, "opacity": 1, "size": 34},
         "encoding": {
           "x": {"field": "x", "type": "quantitative"}, "y": {"field": "y", "type": "quantitative"},
           "shape": {"field": "s", "type": "nominal", "scale": {"domain": ["nl","qc","ql","lc","ll"], "range": ["circle","square","square","M0,-1.1L1.25,1.1L-1.25,1.1Z","M0,-1.1L1.25,1.1L-1.25,1.1Z"]}, "legend": null},
           "fill": {"field": "s", "type": "nominal", "scale": {"domain": ["nl","qc","ql","lc","ll"], "range": ["#999","white","white","white","white"]}, "legend": null}
         }},
        {"data": {"name": "names"}, "transform": [{"filter": "datum.p === 'de'"}],
         "mark": {"type": "text", "align": "left", "baseline": "alphabetic", "font": "Liberation Sans", "fontSize": 19, "color": "#222"},
         "encoding": {"text": {"field": "name"}, "x": {"datum": 0.0079}, "y": {"datum": 6.93}}}
      ]
    },
    {
      "width": 270, "height": 231,
      "title": {"text": "(b)", "orient": "bottom", "font": "Liberation Serif", "fontStyle": "italic", "fontSize": 21, "offset": 48, "baseline": "alphabetic", "frame": "group", "anchor": "middle", "dx": 5},
      "layer": [
        {"data": {"name": "curves"}, "transform": [{"filter": "datum.p === 'le'"}],
         "mark": {"type": "line", "interpolate": "monotone"},
         "encoding": {
           "x": {"field": "x", "type": "quantitative", "scale": {"domain": [0, 0.15], "nice": false, "zero": false}, "axis": {"values": [0, 0.05, 0.1, 0.15], "format": "~g", "title": "ε"}},
           "y": {"field": "y", "type": "quantitative", "scale": {"domain": [-0.2, 0.5], "nice": false, "zero": false}, "axis": {"title": null, "values": [-0.2, -0.1, 0, 0.1, 0.2, 0.3, 0.4], "format": "~g", "labelExpr": "abs(datum.value*5 - round(datum.value*5)) < 1e-6 ? replace(datum.label, '\u2212', '-') : ''"}},
           "stroke": {"field": "s", "type": "nominal", "scale": {"domain": ["nl","qc","ql","lc","ll"], "range": ["#111","#666","#222","#666","#222"]}, "legend": null},
           "strokeDash": {"field": "s", "type": "nominal", "scale": {"domain": ["nl","qc","ql","lc","ll"], "range": [[1,0],[1,2.5],[1,0],[1,2.5],[1,0]]}, "legend": null},
           "strokeWidth": {"field": "s", "type": "nominal", "scale": {"domain": ["nl","qc","ql","lc","ll"], "range": [1.8,1,1,1,1]}, "legend": null}
         }},
        {"data": {"name": "curves"}, "transform": [{"filter": "datum.p === 'le' && datum.m === 1"}],
         "mark": {"type": "point", "filled": true, "stroke": "#222", "strokeWidth": 1, "opacity": 1, "size": 34},
         "encoding": {
           "x": {"field": "x", "type": "quantitative"}, "y": {"field": "y", "type": "quantitative"},
           "shape": {"field": "s", "type": "nominal", "scale": {"domain": ["nl","qc","ql","lc","ll"], "range": ["circle","square","square","M0,-1.1L1.25,1.1L-1.25,1.1Z","M0,-1.1L1.25,1.1L-1.25,1.1Z"]}, "legend": null},
           "fill": {"field": "s", "type": "nominal", "scale": {"domain": ["nl","qc","ql","lc","ll"], "range": ["#999","white","white","white","white"]}, "legend": null}
         }},
        {"data": {"name": "names"}, "transform": [{"filter": "datum.p === 'le'"}],
         "mark": {"type": "text", "align": "left", "baseline": "alphabetic", "font": "Liberation Sans", "fontSize": 19, "color": "#222"},
         "encoding": {"text": {"field": "name"}, "x": {"datum": 0.0067}, "y": {"datum": 0.425}}}
      ]
    }
  ],
  "config": {
    "font": "Liberation Sans",
    "view": {"stroke": "#333", "strokeWidth": 1.5},
    "axis": {"domain": false, "ticks": false, "grid": true, "gridColor": "#444", "gridDash": [1, 3], "gridWidth": 1, "gridOpacity": 1, "labelFont": "Liberation Sans", "labelFontSize": 16, "labelColor": "#222", "labelFlush": false, "labelOverlap": false, "titleFont": "Liberation Serif", "titleFontSize": 20, "titleFontWeight": "normal", "titleColor": "#222"},
    "axisX": {"labelPadding": 9, "titlePadding": -11},
    "axisY": {"labelPadding": 6},
    "title": {"font": "Liberation Sans", "fontWeight": "normal", "color": "#222"}
  }
}
